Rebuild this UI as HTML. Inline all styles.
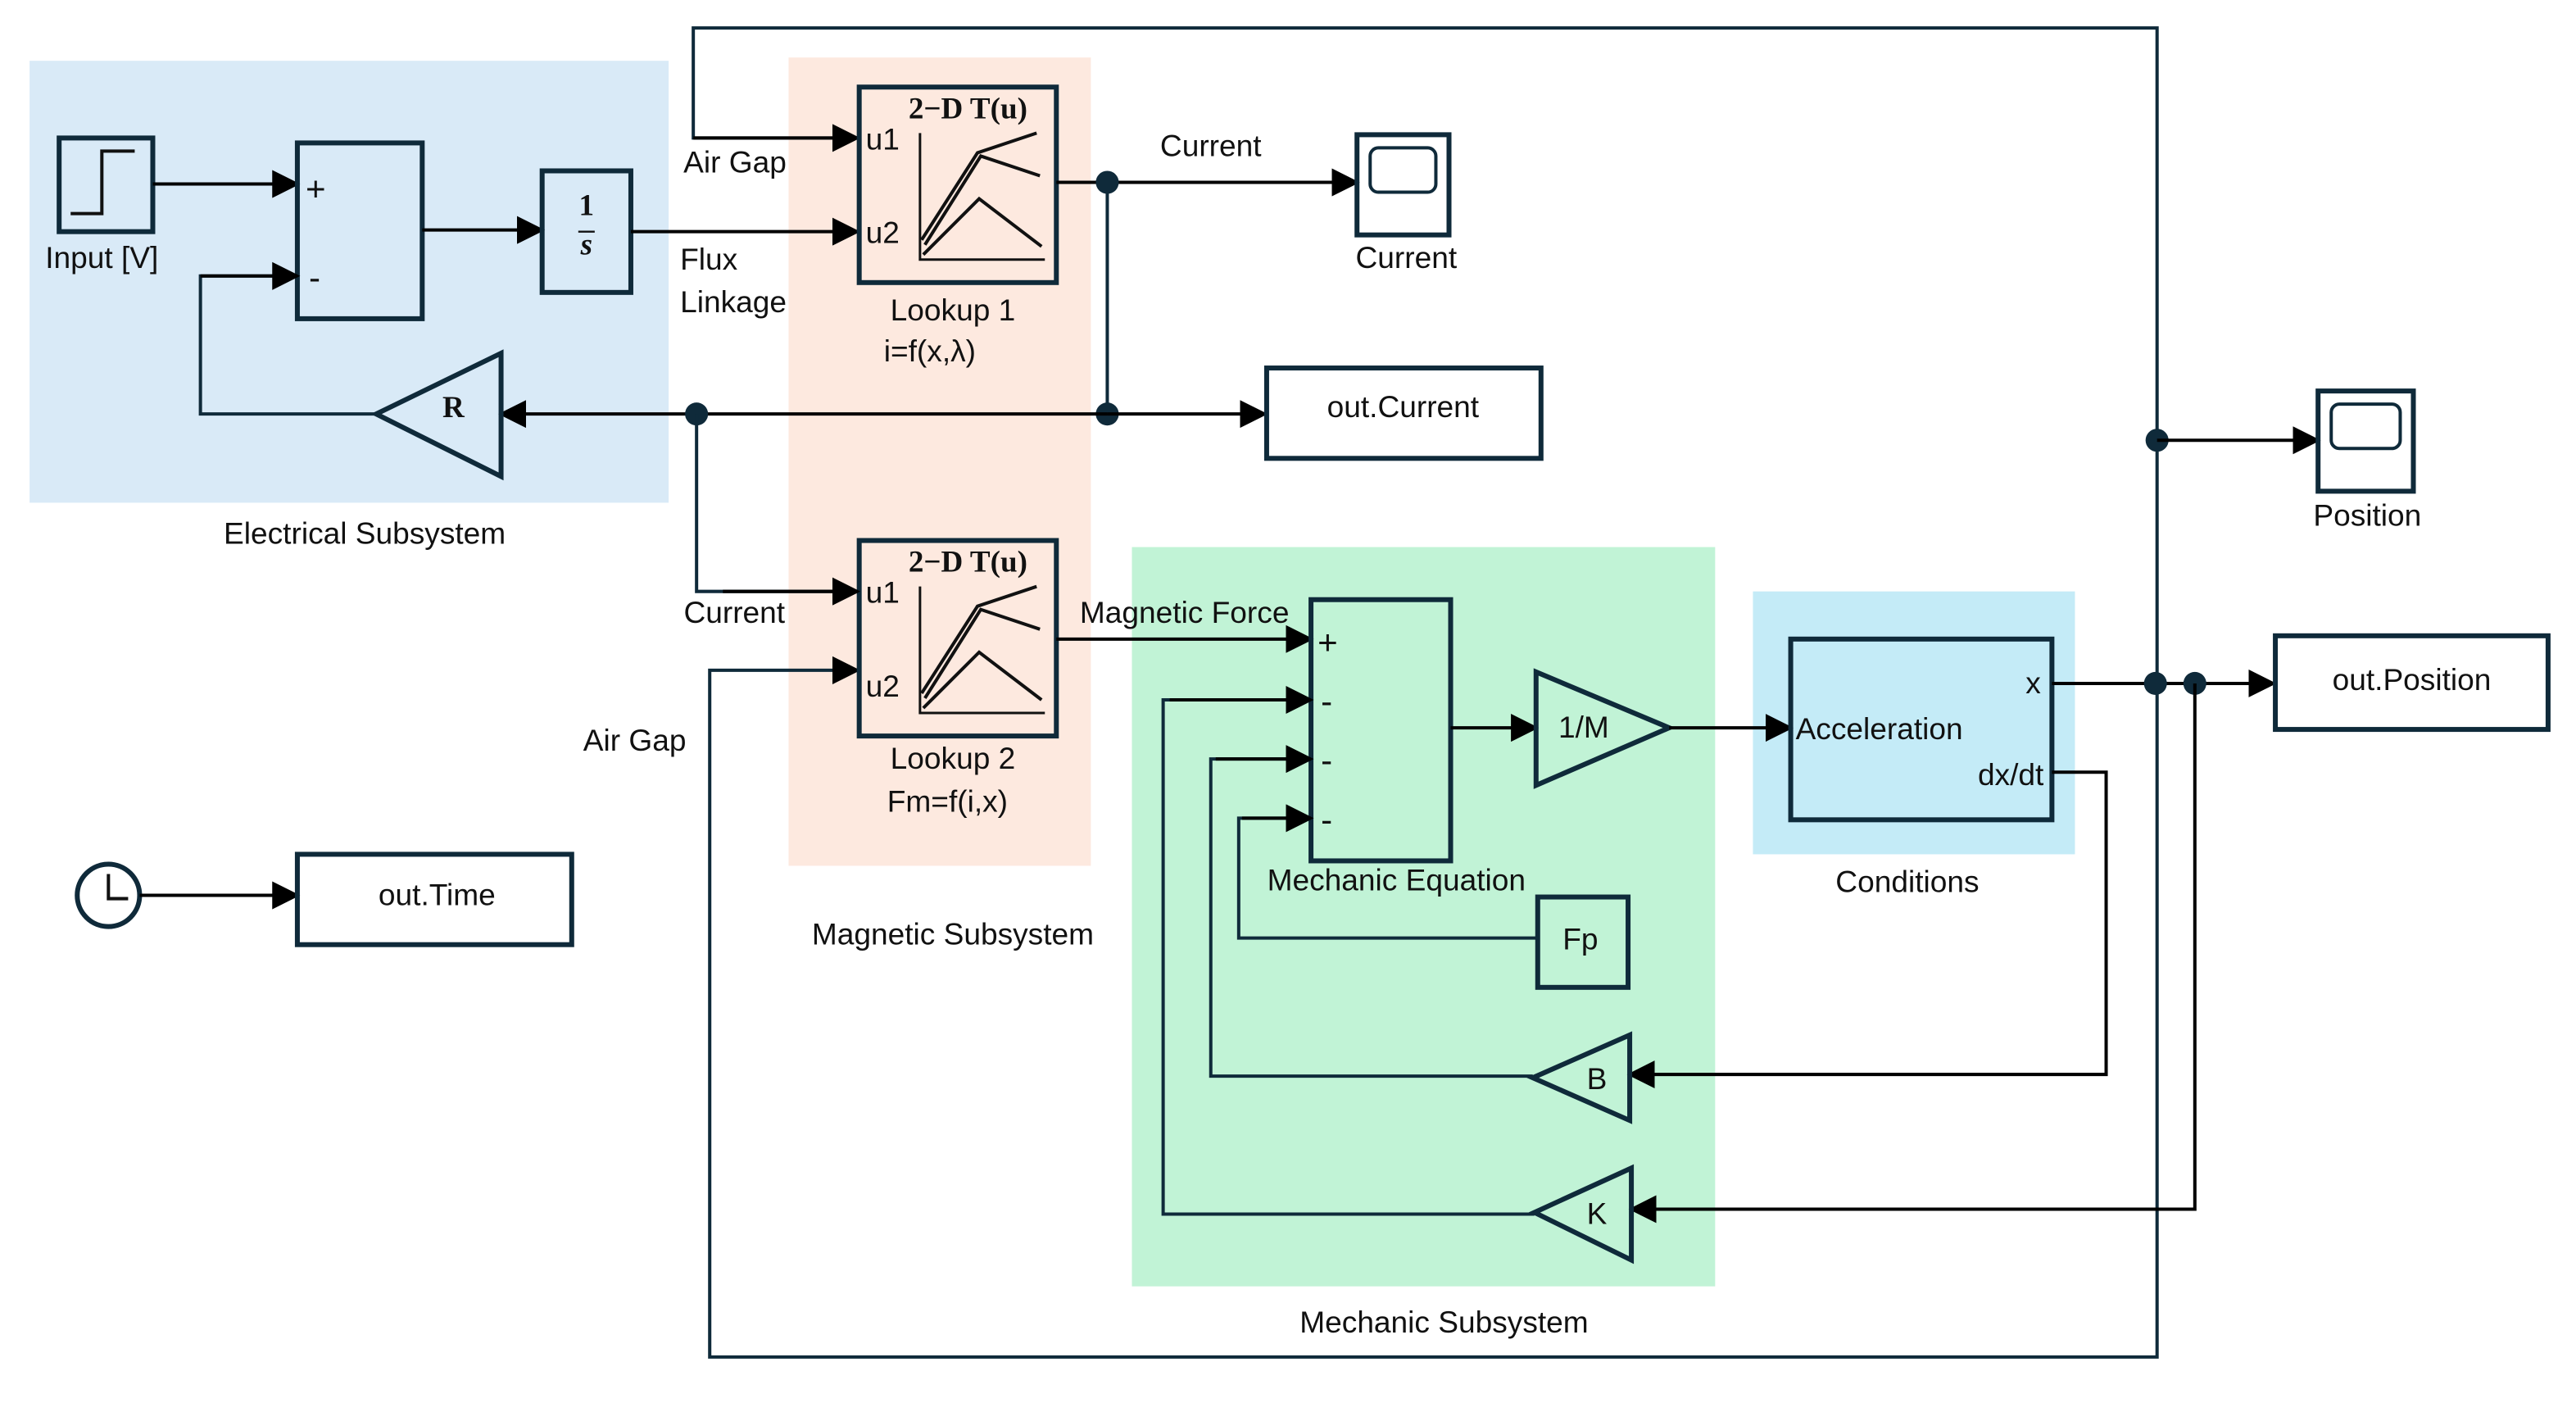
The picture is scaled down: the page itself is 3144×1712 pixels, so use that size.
<!DOCTYPE html>
<html><head><meta charset="utf-8"><style>
html,body{margin:0;padding:0;background:#fff;}
svg{display:block;}
text{font-family:"Liberation Sans",sans-serif;font-size:18.5px;fill:#111;}
.b{fill:none;stroke:#0f2a3a;stroke-width:3;}
.l{fill:none;stroke:#000;stroke-width:2;}
.n{fill:none;stroke:#0f2a3a;stroke-width:2;}
.s{font-family:"Liberation Serif",serif;font-weight:bold;}
.pm{font-size:21px;}
</style></head><body>
<svg width="3144" height="1712" viewBox="0 0 1568 854" preserveAspectRatio="none" xmlns="http://www.w3.org/2000/svg">
<defs>
<marker id="a2" viewBox="0 0 10 10" markerWidth="17" markerHeight="17" refX="9" refY="5" orient="auto" markerUnits="userSpaceOnUse"><path d="M0,0 L10,5 L0,10 z" fill="#000"/></marker>
<g id="lk">
<rect x="0" y="0" width="120" height="119" class="b"/>
<text x="30" y="19" class="s" font-size="20">2−D T(u)</text>
<text x="4" y="38">u1</text><text x="4" y="95">u2</text>
<path d="M37,28 V105 H113" stroke="#111" stroke-width="1.5" fill="none"/>
<path d="M38,93 L72,40 L108,28 M40,96 L74,42 L110,54 M39,102 L73,68 L111,97" stroke="#111" stroke-width="2" fill="none"/>
</g>
</defs>
<rect x="18" y="37" width="389" height="269" fill="#d9eaf7"/>
<rect x="480" y="35" width="184" height="492" fill="#fde9df"/>
<rect x="689" y="333" width="355" height="450" fill="#c1f3d6"/>
<rect x="1067" y="360" width="196" height="160" fill="#c4ebf7"/>
<text x="222" y="331" text-anchor="middle">Electrical Subsystem</text>
<text x="580" y="575" text-anchor="middle">Magnetic Subsystem</text>
<text x="879" y="811" text-anchor="middle">Mechanic Subsystem</text>
<text x="1161" y="543" text-anchor="middle">Conditions</text>
<path d="M522,84 H422 V17 H1313 V826 H432 V408 H522" class="n" marker-end="url(#a2)"/>
<path d="M422,84 H522" class="l" marker-end="url(#a2)"/>
<rect x="36" y="84" width="57" height="57" class="b"/>
<path d="M43,130 H62 V92 H82" stroke="#111" stroke-width="2" fill="none"/>
<text x="62" y="163" text-anchor="middle">Input [V]</text>
<path d="M93,112 H181" class="l" marker-end="url(#a2)"/>
<rect x="181" y="87" width="76" height="107" class="b"/>
<text x="186" y="122" class="pm">+</text><text x="188" y="176" class="pm">-</text>
<path d="M257,140 H330" class="l" marker-end="url(#a2)"/>
<rect x="330" y="104" width="54" height="74" class="b"/>
<text x="357" y="131" text-anchor="middle" class="s" font-size="15">1</text>
<path d="M352,141 H362" stroke="#111" stroke-width="1.2"/>
<text x="357" y="155" text-anchor="middle" class="s" font-size="15" font-style="italic">s</text>
<path d="M384,141 H522" class="l" marker-end="url(#a2)"/>
<text x="414" y="164">Flux</text><text x="414" y="190">Linkage</text>
<text x="416" y="105">Air Gap</text>
<use href="#lk" x="523" y="53"/>
<use href="#lk" x="523" y="329"/>
<text x="580" y="195" text-anchor="middle">Lookup 1</text>
<text x="538" y="220">i=f(x,λ)</text>
<text x="580" y="468" text-anchor="middle">Lookup 2</text>
<text x="540" y="494">Fm=f(i,x)</text>
<path d="M643,111 H826" class="l" marker-end="url(#a2)"/>
<text x="737" y="95" text-anchor="middle">Current</text>
<path d="M674,111 V252" class="n"/>
<circle cx="674" cy="111" r="7" fill="#0f2a3a"/>
<circle cx="674" cy="252" r="7" fill="#0f2a3a"/>
<rect x="826" y="82" width="56" height="61" class="b"/>
<rect x="834" y="90" width="40" height="27" rx="5" class="n"/>
<text x="856" y="163" text-anchor="middle">Current</text>
<path d="M674,252 H770" class="l" marker-end="url(#a2)"/>
<rect x="771" y="224" width="167" height="55" class="b"/>
<text x="854" y="254" text-anchor="middle">out.Current</text>
<path d="M674,252 H305" class="l" marker-end="url(#a2)"/>
<circle cx="424" cy="252" r="7" fill="#0f2a3a"/>
<path d="M305,215 V290 L229,252 Z" class="b"/>
<text x="276" y="254" text-anchor="middle" class="s" font-size="15">R</text>
<path d="M229,252 H122 V168 H181" class="n"/>
<path d="M122,168 H181" class="l" marker-end="url(#a2)"/>
<path d="M424,252 V360 H522" class="n"/>
<path d="M440,360 H522" class="l" marker-end="url(#a2)"/>
<text x="447" y="379" text-anchor="middle">Current</text>
<text x="355" y="457">Air Gap</text>
<path d="M643,389 H798" class="l" marker-end="url(#a2)"/>
<text x="721" y="379" text-anchor="middle">Magnetic Force</text>
<rect x="798" y="365" width="85" height="159" class="b"/>
<text x="802" y="398" class="pm">+</text><text x="804" y="434" class="pm">-</text><text x="804" y="470" class="pm">-</text><text x="804" y="506" class="pm">-</text>
<text x="850" y="542" text-anchor="middle">Mechanic Equation</text>
<path d="M883,443 H935" class="l" marker-end="url(#a2)"/>
<path d="M935,409 V478 L1016,443 Z" class="b"/>
<text x="964" y="449" text-anchor="middle">1/M</text>
<path d="M1016,443 H1090" class="l" marker-end="url(#a2)"/>
<rect x="1090" y="389" width="159" height="110" class="b"/>
<text x="1233" y="422">x</text>
<text x="1093" y="450">Acceleration</text>
<text x="1244" y="478" text-anchor="end">dx/dt</text>
<path d="M1249,416 H1384" class="l" marker-end="url(#a2)"/>
<circle cx="1312" cy="416" r="7" fill="#0f2a3a"/>
<circle cx="1336" cy="416" r="7" fill="#0f2a3a"/>
<rect x="1385" y="387" width="166" height="57" class="b"/>
<text x="1468" y="420" text-anchor="middle">out.Position</text>
<circle cx="1313" cy="268" r="7" fill="#0f2a3a"/>
<path d="M1313,268 H1411" class="l" marker-end="url(#a2)"/>
<rect x="1411" y="238" width="58" height="61" class="b"/>
<rect x="1419" y="246" width="42" height="27" rx="5" class="n"/>
<text x="1441" y="320" text-anchor="middle">Position</text>
<path d="M1249,470 H1282 V654 H992" class="l" marker-end="url(#a2)"/>
<path d="M992,630 V682 L933,656 Z" class="b"/>
<text x="972" y="663" text-anchor="middle">B</text>
<path d="M933,655 H737 V462 H798" class="n"/>
<path d="M740,462 H798" class="l" marker-end="url(#a2)"/>
<path d="M1336,416 V736 H993" class="l" marker-end="url(#a2)"/>
<path d="M993,711 V767 L934,738 Z" class="b"/>
<text x="972" y="745" text-anchor="middle">K</text>
<path d="M934,739 H708 V426 H798" class="n"/>
<path d="M712,426 H798" class="l" marker-end="url(#a2)"/>
<rect x="936" y="546" width="55" height="55" class="b"/>
<text x="962" y="578" text-anchor="middle">Fp</text>
<path d="M936,571 H754 V498 H798" class="n"/>
<path d="M756,498 H798" class="l" marker-end="url(#a2)"/>
<circle cx="66" cy="545" r="19" class="b"/>
<path d="M66,532 V547 H78" stroke="#111" stroke-width="2" fill="none"/>
<path d="M85,545 H181" class="l" marker-end="url(#a2)"/>
<rect x="181" y="520" width="167" height="55" class="b"/>
<text x="266" y="551" text-anchor="middle">out.Time</text>
</svg>
</body></html>
